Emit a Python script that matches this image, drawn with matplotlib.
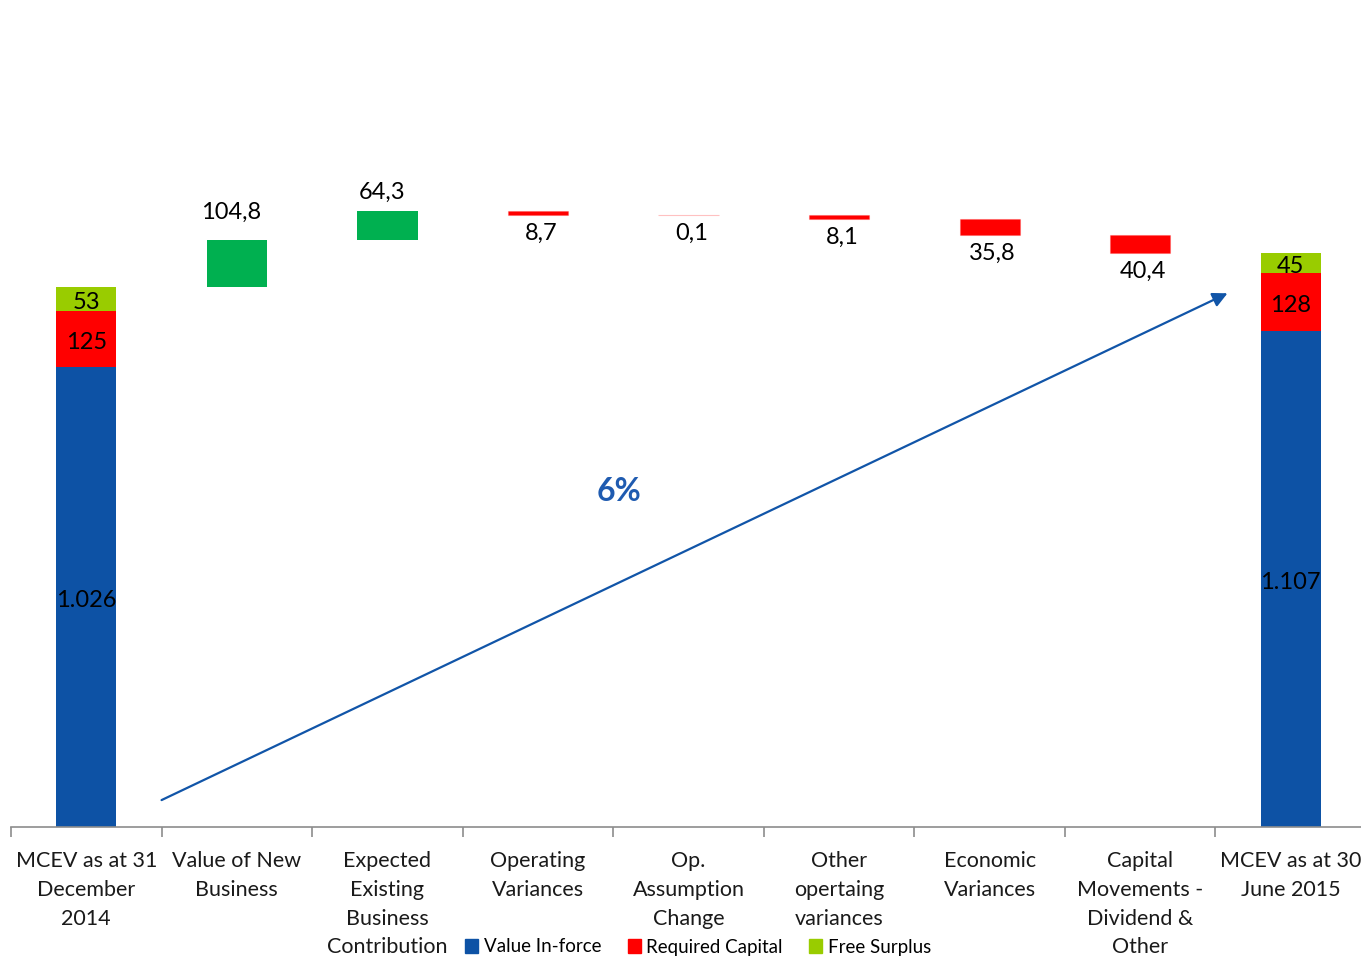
import matplotlib.pyplot as plt
import numpy as np
from matplotlib.patches import Patch

plt.rcParams["font.family"] = ["Lato", "DejaVu Sans"]

categories = ["MCEV as at 31\nDecember\n2014", "Value of New\nBusiness",
              "Expected\nExisting\nBusiness\nContribution", "Operating\nVariances",
              "Op.\nAssumption\nChange", "Other\nopertaing\nvariances",
              "Economic\nVariances", "Capital\nMovements -\nDividend &\nOther",
              "MCEV as at 30\nJune 2015"]

# opening / closing stacks
start_vif, start_rc, start_fs = 1026, 125, 53
end_vif, end_rc, end_fs = 1107, 128, 45

# movements between the two totals
deltas = [104.8, 64.3, -8.7, -0.1, -8.1, -35.8, -40.4]
delta_labels = ["104,8", "64,3", "8,7", "0,1", "8,1", "35,8", "40,4"]

growth_label = "6%"

C_VIF = "#0D52A5"
C_RC = "#FF0000"
C_FS = "#99CC00"
C_UP = "#00B050"
C_DOWN = "#FF0000"

W, H = 1361, 957
fig = plt.figure(figsize=(W / 100, H / 100), dpi=100)
ax = fig.add_axes([11 / W, 1 - 827 / H, 1355 / W, 827 / H])
ax.set_xlim(-0.5, 8.5)
ax.set_ylim(0, 827 / 0.4485)

bw = 0.4
fs = 17


def inner(x, y, s):
    ax.annotate(s, (x, y), xytext=(0, -2.5), textcoords="offset points",
                ha="center", va="center", fontsize=fs)


# opening bar
ax.bar(0, start_vif, bw, color=C_VIF)
ax.bar(0, start_rc, bw, bottom=start_vif, color=C_RC)
ax.bar(0, start_fs, bw, bottom=start_vif + start_rc, color=C_FS)
inner(0, start_vif / 2, "1.026")
inner(0, start_vif + start_rc / 2, str(start_rc))
inner(0, start_vif + start_rc + start_fs / 2, str(start_fs))

# closing bar
ax.bar(8, end_vif, bw, color=C_VIF)
ax.bar(8, end_rc, bw, bottom=end_vif, color=C_RC)
ax.bar(8, end_fs, bw, bottom=end_vif + end_rc, color=C_FS)
inner(8, end_vif / 2, "1.107")
inner(8, end_vif + end_rc / 2, str(end_rc))
inner(8, end_vif + end_rc + end_fs / 2, str(end_fs))

# floating movements
level = start_vif + start_rc + start_fs
up_offsets = [12, 6]
k = 0
for i, (d, lab) in enumerate(zip(deltas, delta_labels), start=1):
    if d >= 0:
        ax.bar(i, d, bw, bottom=level, color=C_UP)
        ax.annotate(lab, (i, level + d), xytext=(-4, up_offsets[k]), textcoords="offset points",
                    ha="center", va="bottom", fontsize=fs)
        k += 1
    else:
        ax.bar(i, -d, bw, bottom=level + d, color=C_DOWN,
               edgecolor=(1, 0.2, 0.2, 0.3), linewidth=0.8)
        ax.annotate(lab, (i, level + d), xytext=(2, -5.5), textcoords="offset points",
                    ha="center", va="top", fontsize=fs)
    level += d

# growth arrow
ax.annotate("", xy=(7.58, 1190), xytext=(0.5, 60),
            arrowprops=dict(arrowstyle="-|>", color="#1155A8", lw=1.6,
                            mutation_scale=22, shrinkA=0, shrinkB=0))
ax.text(3.54, 747, growth_label, color="#1F5BB0", fontsize=23, fontweight="bold",
        ha="center", va="center")

# axis
for s in ["top", "right", "left"]:
    ax.spines[s].set_visible(False)
ax.spines["bottom"].set_color("#8C8C8C")
ax.spines["bottom"].set_linewidth(1.2)
ax.set_yticks([])
ax.set_xticks(np.arange(-0.5, 9.0, 1.0))
ax.set_xticklabels([])
ax.tick_params(axis="x", length=7, color="#8C8C8C", width=1.2)
for i, c in enumerate(categories):
    ax.text(i, -24 / 0.4485, c, ha="center", va="top", fontsize=15.5,
            linespacing=1.55, color="#1A1A1A")

handles = [Patch(color=C_VIF, label="Value In-force"),
           Patch(color=C_RC, label="Required Capital"),
           Patch(color=C_FS, label="Free Surplus")]
fig.legend(handles=handles, loc="center", bbox_to_anchor=(698 / W, 1 - 947 / H),
           ncol=3, frameon=False, fontsize=13.5, handlelength=0.7, handleheight=0.7,
           handletextpad=0.3, columnspacing=1.4, borderpad=0)

fig.savefig("out.png", dpi=100)
